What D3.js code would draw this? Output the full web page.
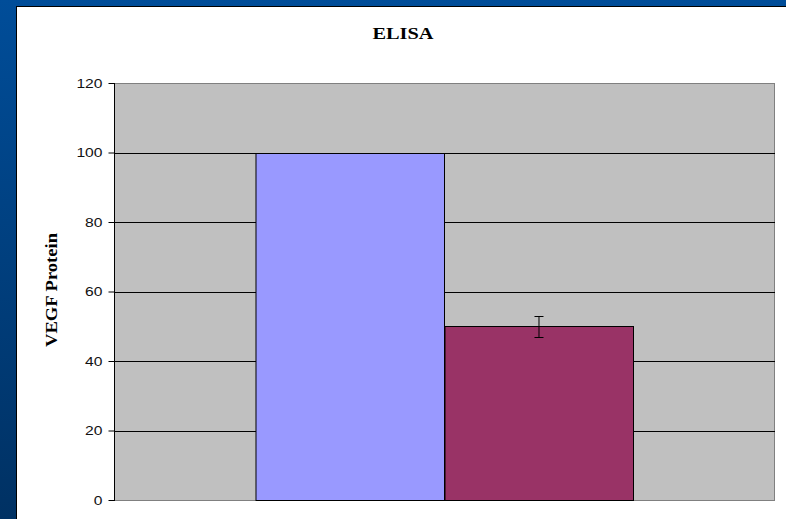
<!DOCTYPE html>
<html>
<head>
<meta charset="utf-8">
<script src="https://cdn.jsdelivr.net/npm/d3@7"></script>
<style>
html,body{margin:0;padding:0;background:#fff;}
svg{display:block;}
</style>
</head>
<body>
<svg id="chart" width="786" height="519"></svg>
<script>
const title = "ELISA";
const yAxisTitle = "VEGF Protein";
const categories = [""];
const seriesNames = ["Control", "Treated"];
const seriesValues = [100, 50];
const seriesErrors = [null, 3];
const seriesColors = ["#9999ff", "#993366"];
const yTicks = [0, 20, 40, 60, 80, 100, 120];

const svg = d3.select("#chart");
const W = 786, H = 519;

const defs = svg.append("defs");
const grad = defs.append("linearGradient").attr("id","bg").attr("x1",0).attr("y1",0).attr("x2",0).attr("y2",1);
grad.append("stop").attr("offset","0%").attr("stop-color","#004d99");
grad.append("stop").attr("offset","100%").attr("stop-color","#003163");

svg.append("rect").attr("width",W).attr("height",H).attr("fill","url(#bg)");
svg.append("rect").attr("x",16).attr("y",6).attr("width",W-16).attr("height",H-6).attr("fill","#000");
svg.append("rect").attr("x",17).attr("y",7).attr("width",W-17).attr("height",H-7).attr("fill","#fff");

const plot = {left:114, right:774, top:83, bottom:500};

const y = d3.scaleLinear().domain([0,120]).range([plot.bottom, plot.top]);
const x0 = d3.scaleBand().domain(categories).range([plot.left, plot.right]).paddingInner(0).paddingOuter(0.3753);
const x1 = d3.scaleBand().domain(seriesNames).range([0, x0.bandwidth()]).padding(0);

// plot area
svg.append("rect").attr("x",plot.left+0.5).attr("y",plot.top+0.5)
  .attr("width",plot.right-plot.left).attr("height",plot.bottom-plot.top)
  .attr("fill","#c0c0c0").attr("stroke","#808080").attr("stroke-width",1);

// gridlines
svg.append("g").selectAll("line").data(yTicks.filter(d=>d>0 && d<120)).join("line")
  .attr("x1",plot.left).attr("x2",plot.right+1)
  .attr("y1",d=>Math.round(y(d))+0.5).attr("y2",d=>Math.round(y(d))+0.5)
  .attr("stroke","#000").attr("stroke-width",1);

// bars
const g = svg.append("g").attr("transform",`translate(${x0(categories[0])},0)`);
g.selectAll("rect").data(seriesNames).join("rect")
  .attr("x",(d)=>Math.round(x1(d))+0.5)
  .attr("y",(d,i)=>Math.round(y(seriesValues[i]))+0.5)
  .attr("width",x1.bandwidth())
  .attr("height",(d,i)=>Math.round(y(0))-Math.round(y(seriesValues[i])))
  .attr("fill",(d,i)=>seriesColors[i])
  .attr("stroke","#000").attr("stroke-width",1);

// error bars
seriesNames.forEach((s,i)=>{
  const e = seriesErrors[i];
  if(e==null) return;
  const cx = Math.round(x1(s)+x1.bandwidth()/2)+0.5;
  const yt = Math.round(y(seriesValues[i]+e))+0.5, yb = Math.round(y(seriesValues[i]-e))+0.5;
  g.append("line").attr("x1",cx).attr("x2",cx).attr("y1",yt).attr("y2",yb).attr("stroke","#000");
  g.append("line").attr("x1",cx-4.5).attr("x2",cx+4.5).attr("y1",yt).attr("y2",yt).attr("stroke","#000");
  g.append("line").attr("x1",cx-4.5).attr("x2",cx+4.5).attr("y1",yb).attr("y2",yb).attr("stroke","#000");
});

// y axis
const yAxis = d3.axisLeft(y).tickValues(yTicks).tickSize(6).tickPadding(6).tickFormat(d3.format("d"));
const ax = svg.append("g").attr("transform",`translate(${plot.left+0.5},0)`).call(yAxis);
ax.select(".domain").attr("stroke","#000").attr("d",`M0,${plot.top}V${plot.bottom+1}`);
ax.selectAll(".tick line").attr("stroke","#000");
ax.selectAll(".tick text")
  .attr("font-family","Arial, 'Liberation Sans', sans-serif")
  .attr("font-size",12).attr("fill","#111")
  .attr("textLength",d=>String(d).length*8.7)
  .attr("lengthAdjust","spacingAndGlyphs")
  .attr("dy","0.36em");

// title
svg.append("text").attr("x",403).attr("y",39).attr("text-anchor","middle")
  .attr("font-family","'Liberation Serif','Times New Roman',serif").attr("font-weight","bold")
  .attr("font-size",17).attr("textLength",61).attr("lengthAdjust","spacingAndGlyphs").text(title);

// y axis title
svg.append("text").attr("transform","translate(57,290) rotate(-90)").attr("text-anchor","middle")
  .attr("font-family","'Liberation Serif','Times New Roman',serif").attr("font-weight","bold")
  .attr("font-size",17).attr("textLength",114).attr("lengthAdjust","spacingAndGlyphs").text(yAxisTitle);
</script>
</body>
</html>
